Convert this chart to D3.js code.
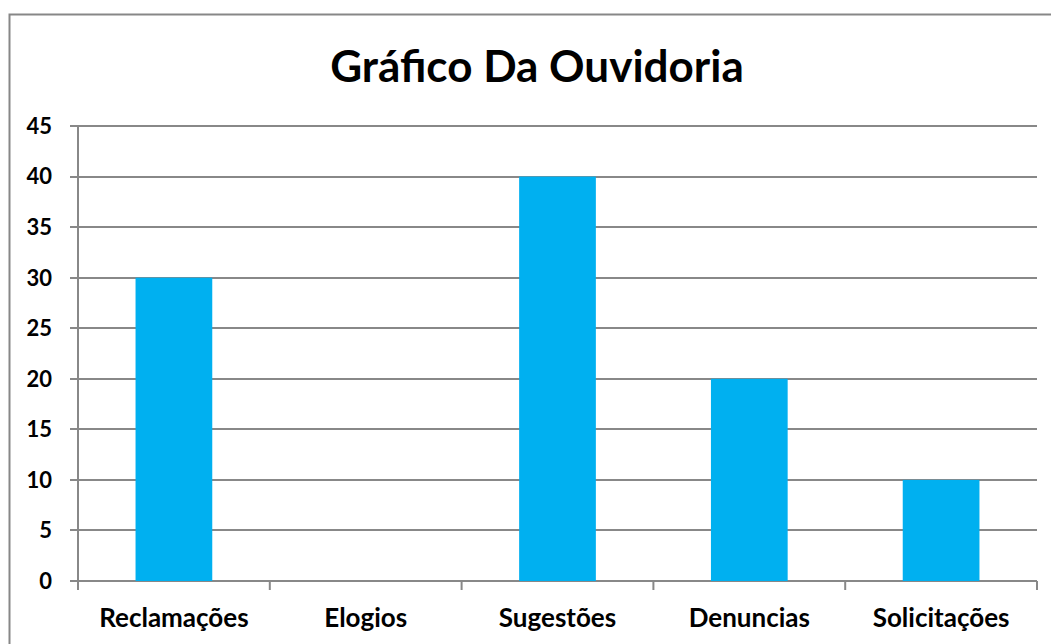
<!DOCTYPE html>
<html>
<head>
<meta charset="utf-8">
<script src="https://cdn.jsdelivr.net/npm/d3@7"></script>
<style>
  body { margin: 0; background: #fff; }
  svg { display: block; }
</style>
</head>
<body>
<div id="chart"></div>
<script>
const categories = ["Reclamações", "Elogios", "Sugestões", "Denuncias", "Solicitações"];
const values = [30, 0, 40, 20, 10];
const yTicks = [0, 5, 10, 15, 20, 25, 30, 35, 40, 45];

const width = 1051, height = 644;
const margin = {top: 126, right: 14, bottom: 63, left: 78};
const font = "Lato, 'Open Sans', sans-serif";

const svg = d3.select("#chart").append("svg")
    .attr("width", width)
    .attr("height", height)
    .style("font-family", font);

// outer frame
svg.append("rect")
    .attr("x", 9.5).attr("y", 14.5)
    .attr("width", width).attr("height", height)
    .attr("fill", "none")
    .attr("stroke", "#878787")
    .attr("stroke-width", 2);

svg.append("text")
    .attr("x", 537).attr("y", 82)
    .attr("text-anchor", "middle")
    .attr("font-size", 44)
    .attr("font-weight", "bold")
    .text("Gráfico Da Ouvidoria");

const x = d3.scaleBand()
    .domain(categories)
    .range([margin.left, width - margin.right])
    .paddingInner(0.6)
    .paddingOuter(0.3);

const y = d3.scaleLinear()
    .domain([0, 45])
    .range([height - margin.bottom, margin.top]);

// gridlines
svg.append("g")
    .selectAll("line")
    .data(yTicks)
    .join("line")
    .attr("x1", margin.left - 8)
    .attr("x2", width - margin.right)
    .attr("y1", d => Math.round(y(d)))
    .attr("y2", d => Math.round(y(d)))
    .attr("stroke", "#888")
    .attr("stroke-width", 2);

// bars
svg.append("g")
    .selectAll("rect")
    .data(values)
    .join("rect")
    .attr("x", (d, i) => x(categories[i]))
    .attr("width", x.bandwidth())
    .attr("y", d => y(d))
    .attr("height", d => y(0) - y(d))
    .attr("fill", "#00B0F0");

// y axis line
svg.append("line")
    .attr("x1", margin.left).attr("x2", margin.left)
    .attr("y1", margin.top).attr("y2", y(0) + 9)
    .attr("stroke", "#888").attr("stroke-width", 2);

// y labels
svg.append("g")
    .selectAll("text")
    .data(yTicks)
    .join("text")
    .attr("x", 52)
    .attr("y", d => y(d))
    .attr("dy", "0.36em")
    .attr("text-anchor", "end")
    .attr("font-size", 22)
    .attr("font-weight", "bold")
    .text(d => d);

// category boundary ticks
const step = x.step();
const bounds = d3.range(categories.length + 1).map(i => margin.left + i * step);
svg.append("g")
    .selectAll("line")
    .data(bounds)
    .join("line")
    .attr("x1", d => d).attr("x2", d => d)
    .attr("y1", y(0)).attr("y2", y(0) + 9)
    .attr("stroke", "#888").attr("stroke-width", 2);

// category labels
svg.append("g")
    .selectAll("text")
    .data(categories)
    .join("text")
    .attr("x", d => x(d) + x.bandwidth() / 2)
    .attr("y", 627)
    .attr("text-anchor", "middle")
    .attr("font-size", 26)
    .attr("font-weight", "bold")
    .text(d => d);
</script>
</body>
</html>
